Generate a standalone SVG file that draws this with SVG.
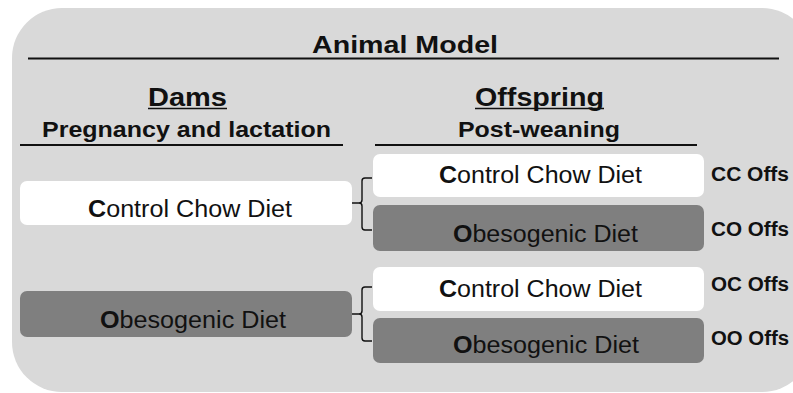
<svg xmlns="http://www.w3.org/2000/svg" width="793" height="393" viewBox="0 0 793 393">
<style>
text{font-family:"Liberation Sans",Arial,sans-serif;fill:#111}
.h{font-weight:bold}
.d{font-size:23px}
.b{font-weight:bold}
.lbl{font-size:20px;font-weight:bold}
.wbox{fill:#ffffff}
.gbox{fill:#7f7f7f}
.rule{stroke:#111;stroke-width:2.2;fill:none}
.brace{stroke:#111;stroke-width:1.4;fill:none}
</style>
<rect x="12" y="8" width="800" height="384" rx="50" fill="#d9d9d9"/>
<g id="header">
<text class="h" x="312" y="53" font-size="24" textLength="186" lengthAdjust="spacingAndGlyphs">Animal Model</text>
<line class="rule" x1="28" y1="58.5" x2="779" y2="58.5"/>
<text class="h" x="148" y="106" font-size="25" textLength="79" lengthAdjust="spacingAndGlyphs">Dams</text>
<line x1="148" y1="108.5" x2="227" y2="108.5" stroke="#111" stroke-width="1.6"/>
<text class="h" x="42" y="137" font-size="22" textLength="289" lengthAdjust="spacingAndGlyphs">Pregnancy and lactation</text>
<line class="rule" x1="20" y1="145" x2="343" y2="145"/>
<text class="h" x="475" y="106" font-size="25" textLength="129" lengthAdjust="spacingAndGlyphs">Offspring</text>
<line x1="475" y1="108.5" x2="604" y2="108.5" stroke="#111" stroke-width="1.6"/>
<text class="h" x="458" y="137" font-size="22" textLength="162" lengthAdjust="spacingAndGlyphs">Post-weaning</text>
<line class="rule" x1="375" y1="145" x2="697" y2="145"/>
</g>
<g id="dam-control">
<rect class="wbox" x="20" y="181" width="332" height="44" rx="7"/>
<text class="d" x="88" y="217" textLength="204" lengthAdjust="spacingAndGlyphs"><tspan class="b">C</tspan>ontrol Chow Diet</text>
</g>
<g id="dam-obesogenic">
<rect class="gbox" x="20" y="291" width="332" height="46" rx="7"/>
<text class="d" x="100" y="328" textLength="186" lengthAdjust="spacingAndGlyphs"><tspan class="b">O</tspan>besogenic Diet</text>
</g>
<g id="off-cc">
<rect class="wbox" x="373" y="154" width="331" height="43" rx="7"/>
<text class="d" x="439" y="183" textLength="203" lengthAdjust="spacingAndGlyphs"><tspan class="b">C</tspan>ontrol Chow Diet</text>
<text class="lbl" x="711" y="181" textLength="78" lengthAdjust="spacingAndGlyphs">CC Offs</text>
</g>
<g id="off-co">
<rect class="gbox" x="373" y="205" width="331" height="46" rx="7"/>
<text class="d" x="453" y="242" textLength="185" lengthAdjust="spacingAndGlyphs"><tspan class="b">O</tspan>besogenic Diet</text>
<text class="lbl" x="711" y="236" textLength="78" lengthAdjust="spacingAndGlyphs">CO Offs</text>
</g>
<g id="off-oc">
<rect class="wbox" x="373" y="267" width="331" height="44" rx="7"/>
<text class="d" x="439" y="297" textLength="203" lengthAdjust="spacingAndGlyphs"><tspan class="b">C</tspan>ontrol Chow Diet</text>
<text class="lbl" x="711" y="291" textLength="78" lengthAdjust="spacingAndGlyphs">OC Offs</text>
</g>
<g id="off-oo">
<rect class="gbox" x="373" y="318" width="331" height="45" rx="7"/>
<text class="d" x="453" y="353" textLength="186" lengthAdjust="spacingAndGlyphs"><tspan class="b">O</tspan>besogenic Diet</text>
<text class="lbl" x="711" y="345" textLength="78" lengthAdjust="spacingAndGlyphs">OO Offs</text>
</g>
<g id="connectors">
<path class="brace" d="M372,178 H365 Q362,178 362,181 V200 Q362,203 359,203 H352 M359,203 Q362,203 362,206 V227 Q362,230 365,230 H372"/>
<path class="brace" d="M372,287 H365 Q362,287 362,290 V311 Q362,314 359,314 H352 M359,314 Q362,314 362,317 V338 Q362,341 365,341 H372"/>
</g>
</svg>
